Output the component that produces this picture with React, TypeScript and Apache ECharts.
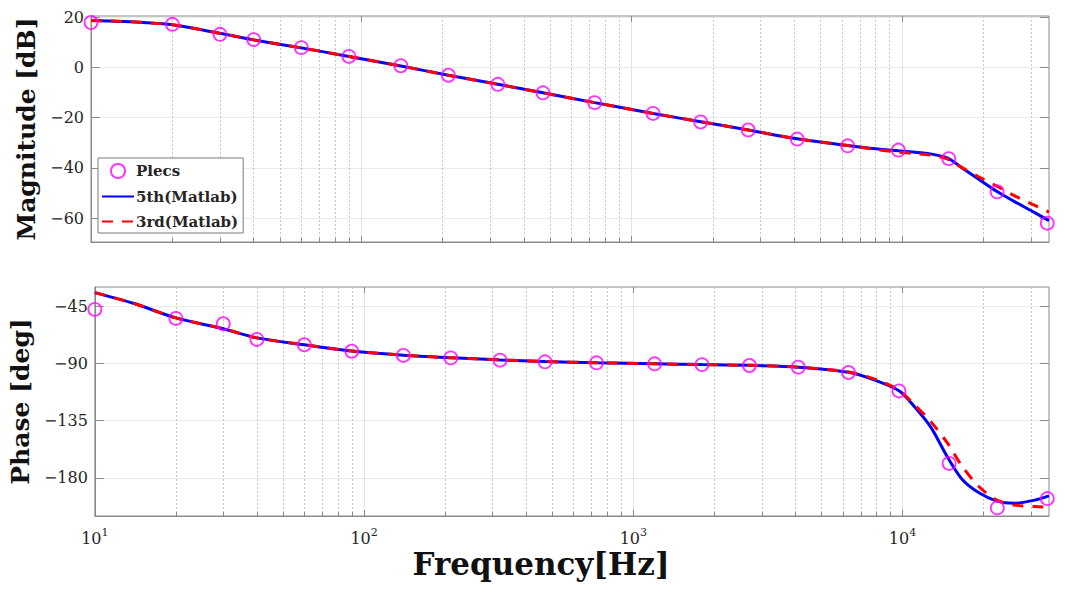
import React, { useEffect, useRef } from 'react';
import * as echarts from 'echarts';

// frequency range of both plots [Hz]
const F_MIN = 10;
const F_MAX = 35000;

// Plecs simulation points
const plecsFreq = [10, 20, 30, 40, 60, 90, 140, 210, 320, 470, 730, 1200, 1800, 2700, 4100, 6300, 9700, 14900, 22500, 34500];
const plecsMag = [17.9, 17.2, 13.2, 11.1, 7.9, 4.4, 0.7, -3.1, -6.7, -10.1, -14.0, -18.3, -21.7, -24.9, -28.5, -31.2, -32.9, -36.3, -49.5, -62.0];
const plecsPhase = [-47.6, -54.7, -58.9, -71.2, -75.4, -80.5, -83.8, -85.7, -87.5, -88.8, -89.6, -90.4, -91.0, -91.7, -93.0, -97.2, -111.7, -168.7, -203.6, -196.3];

// Matlab model curves
const lineFreq = [10, 14, 20, 30, 40, 60, 90, 140, 210, 320, 470, 730, 1200, 1800, 2700, 4100, 6300, 7800, 9700, 11000, 12700, 14700, 16700, 19300, 22400, 25900, 31000, 35000];
const mag5th = [18.7, 18.2, 17.0, 13.6, 11.0, 7.8, 4.4, 0.6, -3.1, -6.7, -10.1, -14.0, -18.3, -21.6, -24.9, -28.4, -31.1, -32.3, -33.2, -33.7, -34.4, -36.0, -40.0, -44.6, -49.3, -53.2, -57.8, -61.0];
const mag3rd = [18.7, 18.2, 17.0, 13.6, 11.0, 7.8, 4.4, 0.6, -3.1, -6.7, -10.1, -14.0, -18.3, -21.6, -24.9, -28.4, -31.1, -32.5, -33.7, -34.2, -34.9, -36.4, -39.9, -43.6, -47.2, -50.9, -54.9, -57.6];
const phase5th = [-34.4, -43.0, -54.3, -62.8, -70.0, -75.4, -80.3, -83.6, -85.6, -87.3, -88.6, -89.5, -90.3, -91.0, -91.6, -93.0, -97.0, -102.8, -111.5, -123.3, -139.8, -163.8, -181.5, -192.0, -198.3, -200.0, -197.5, -194.2];
const phase3rd = [-34.4, -43.0, -54.3, -62.8, -70.0, -75.4, -80.3, -83.6, -85.6, -87.3, -88.6, -89.5, -90.3, -91.0, -91.6, -93.0, -96.8, -102.0, -111.0, -122.0, -135.5, -152.8, -171.3, -187.2, -197.4, -201.3, -202.6, -203.0];

// ticks
const xMajor = [10, 100, 1000, 10000];
const xMinor = [20, 30, 40, 50, 60, 70, 80, 90, 200, 300, 400, 500, 600, 700, 800, 900, 2000, 3000, 4000, 5000, 6000, 7000, 8000, 9000, 20000, 30000];
const magTicks = [-60, -40, -20, 0, 20];
const phaseTicks = [-180, -135, -90, -45];

const SERIF = '"DejaVu Serif", serif';
const BOX = '#8a8a8a';
const TXT = '#262626';

const zip = (xs: number[], ys: number[]) => xs.map((x, i) => [x, ys[i]]);

const freqAxes = (gridIndex: number, showLabels: boolean) => [
  {
    type: 'log',
    logBase: 10,
    gridIndex,
    min: F_MIN,
    max: F_MAX,
    position: 'bottom',
    axisLine: { show: true, onZero: false, lineStyle: { color: BOX } },
    axisTick: { show: true, inside: true, length: 6, customValues: xMajor, lineStyle: { color: BOX } },
    axisLabel: {
      show: showLabels,
      customValues: xMajor,
      margin: 11,
      formatter: (v: number) => `{b|10}{s|${Math.round(Math.log10(v))}}`,
      rich: {
        b: { fontSize: 16, lineHeight: 22, fontFamily: SERIF, color: TXT },
        s: { fontSize: 11, lineHeight: 12, verticalAlign: 'top', fontFamily: SERIF, color: TXT },
      },
    },
    splitLine: { show: true, lineStyle: { color: '#e2e2e2', width: 1 } },
  },
  {
    type: 'log',
    logBase: 10,
    gridIndex,
    min: F_MIN,
    max: F_MAX,
    position: 'bottom',
    axisLine: { show: false, onZero: false },
    axisTick: { show: true, inside: true, length: 4, customValues: xMinor, lineStyle: { color: BOX } },
    axisLabel: { show: false },
    splitLine: { show: true, lineStyle: { color: '#c8c8c8', width: 1, type: [2, 2] } },
  },
  {
    type: 'log',
    logBase: 10,
    gridIndex,
    min: F_MIN,
    max: F_MAX,
    position: 'top',
    axisLine: { show: false, onZero: false },
    axisTick: { show: true, inside: true, length: 6, customValues: xMajor, lineStyle: { color: BOX } },
    axisLabel: { show: false },
    splitLine: { show: false },
  },
];

const valueAxes = (gridIndex: number, min: number, max: number, ticks: number[], name: string) => [
  {
    type: 'value',
    gridIndex,
    min,
    max,
    position: 'left',
    name,
    nameLocation: 'middle',
    nameGap: 46,
    nameTextStyle: { fontFamily: SERIF, fontWeight: 'bold', fontSize: 25, color: '#111' },
    axisLine: { show: true, onZero: false, lineStyle: { color: BOX } },
    axisTick: { show: true, inside: true, length: 9, customValues: ticks, lineStyle: { color: BOX } },
    axisLabel: {
      customValues: ticks,
      margin: 7,
      fontFamily: SERIF,
      fontSize: 16,
      color: TXT,
      formatter: (v: number) => String(v).replace('-', '\u2212'),
    },
    splitLine: { show: true, lineStyle: { color: '#ebebeb', width: 1 } },
  },
  {
    type: 'value',
    gridIndex,
    min,
    max,
    position: 'right',
    axisLine: { show: false, onZero: false },
    axisTick: { show: true, inside: true, length: 9, customValues: ticks, lineStyle: { color: BOX } },
    axisLabel: { show: false },
    splitLine: { show: false },
  },
];

const App: React.FC = () => {
  const chartRef = useRef<HTMLDivElement | null>(null);

  useEffect(() => {
    if (!chartRef.current) return;
    const myChart = echarts.init(chartRef.current, undefined, { renderer: 'svg' });

    const lineCommon = { type: 'line', showSymbol: false, symbol: 'none', smooth: 0.3 };
    const plecsStyle = {
      type: 'scatter',
      name: 'Plecs',
      symbol: 'circle',
      symbolSize: 13,
      itemStyle: { color: 'rgba(255,255,255,0)', borderColor: '#ff00ff', borderWidth: 1.8 },
      z: 5,
    };

    const option: any = {
      animation: false,
      backgroundColor: '#ffffff',
      grid: [
        { left: 91, right: 16, top: 16, height: 226, show: true, borderColor: BOX, borderWidth: 1 },
        { left: 91, right: 16, top: 287, height: 229, show: true, borderColor: BOX, borderWidth: 1 },
      ],
      xAxis: [...freqAxes(0, false), ...freqAxes(1, true)],
      yAxis: [
        ...valueAxes(0, -69.5, 20.5, magTicks, 'Magnitude [dB]'),
        ...valueAxes(1, -210, -30, phaseTicks, 'Phase [deg]'),
      ],
      legend: {
        data: [
          { name: 'Plecs' },
          { name: '5th(Matlab)', itemStyle: { opacity: 0 } },
          { name: '3rd(Matlab)', itemStyle: { opacity: 0 } },
        ],
        orient: 'vertical',
        left: 98,
        top: 158,
        padding: [5, 5, 4, 3],
        itemGap: 10,
        itemWidth: 32,
        itemHeight: 14,
        backgroundColor: '#ffffff',
        borderColor: '#7a7a7a',
        borderWidth: 1,
        borderRadius: 0,
        textStyle: { fontFamily: SERIF, fontWeight: 'bold', fontSize: 15, color: TXT, padding: [0, 0, 0, -3] },
      },
      graphic: [
        {
          type: 'text',
          x: 541,
          y: 564,
          style: {
            text: 'Frequency[Hz]',
            fontFamily: SERIF,
            fontWeight: 'bold',
            fontSize: 31,
            fill: '#111',
            align: 'center',
            verticalAlign: 'middle',
          },
        },
      ],
      series: [
        {
          ...lineCommon,
          name: '5th(Matlab)',
          xAxisIndex: 0,
          yAxisIndex: 0,
          data: zip(lineFreq, mag5th),
          lineStyle: { color: '#0000ff', width: 3 },
          itemStyle: { color: '#0000ff' },
          z: 2,
        },
        {
          ...lineCommon,
          name: '3rd(Matlab)',
          xAxisIndex: 0,
          yAxisIndex: 0,
          data: zip(lineFreq, mag3rd),
          lineStyle: { color: '#ff0000', width: 3, type: [11, 9] },
          itemStyle: { color: '#ff0000' },
          z: 3,
        },
        { ...plecsStyle, xAxisIndex: 0, yAxisIndex: 0, data: zip(plecsFreq, plecsMag) },
        {
          ...lineCommon,
          name: '5th(Matlab)',
          xAxisIndex: 3,
          yAxisIndex: 2,
          data: zip(lineFreq, phase5th),
          lineStyle: { color: '#0000ff', width: 3 },
          itemStyle: { color: '#0000ff' },
          z: 2,
        },
        {
          ...lineCommon,
          name: '3rd(Matlab)',
          xAxisIndex: 3,
          yAxisIndex: 2,
          data: zip(lineFreq, phase3rd),
          lineStyle: { color: '#ff0000', width: 3, type: [11, 9] },
          itemStyle: { color: '#ff0000' },
          z: 3,
        },
        { ...plecsStyle, xAxisIndex: 3, yAxisIndex: 2, data: zip(plecsFreq, plecsPhase) },
      ],
    };

    myChart.setOption(option);

    return () => {
      myChart.dispose();
    };
  }, []);

  return (
    <div
      ref={chartRef}
      style={{ position: 'fixed', left: 0, top: 0, width: '1065px', height: '594px', background: '#fff' }}
    />
  );
};

export default App;
